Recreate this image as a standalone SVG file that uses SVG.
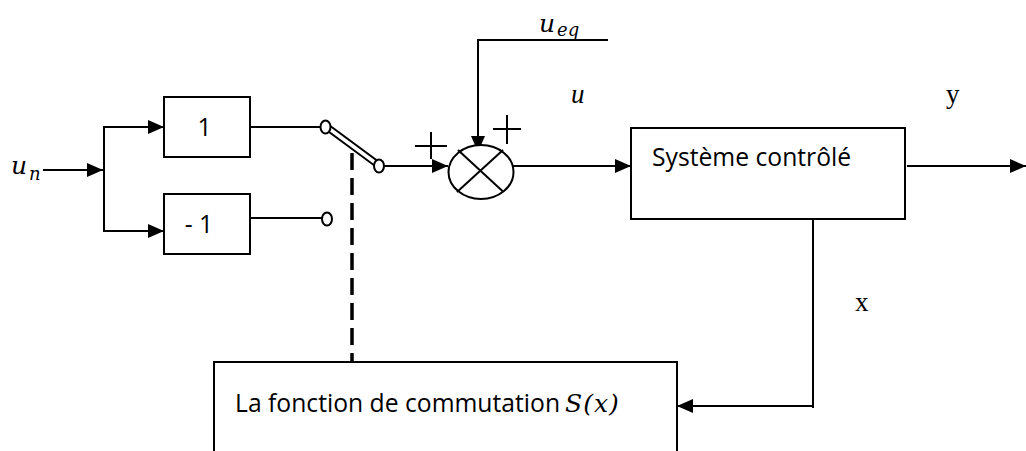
<svg xmlns="http://www.w3.org/2000/svg" width="1026" height="451" viewBox="0 0 1026 451">
<style>
.ln{stroke:#000;stroke-width:2;fill:none}
.bx{stroke:#000;stroke-width:2;fill:#fff}
.sans{font-family:"Open Sans","Noto Sans",sans-serif;font-size:24.7px;fill:#000}
.math{font-family:"DejaVu Serif","Liberation Serif",serif;font-style:italic;fill:#000}
.rom{font-family:"Liberation Serif",serif;font-size:27px;fill:#000}
</style>
<defs>
<marker id="ah" markerUnits="userSpaceOnUse" markerWidth="16" markerHeight="14" refX="16" refY="7" orient="auto">
<path d="M0,0 L16,7 L0,14 z" fill="#000"/>
</marker>
</defs>
<rect width="1026" height="451" fill="#fff"/>

<g id="connectors">
<line class="ln" x1="43" y1="170" x2="103" y2="170" marker-end="url(#ah)"/>
<line class="ln" x1="104" y1="127" x2="104" y2="231"/>
<line class="ln" x1="103" y1="127" x2="164" y2="127" marker-end="url(#ah)"/>
<line class="ln" x1="103" y1="231" x2="164" y2="231" marker-end="url(#ah)"/>
<line class="ln" x1="250" y1="127" x2="320" y2="127"/>
<line class="ln" x1="250" y1="218" x2="322" y2="218"/>
<line class="ln" x1="384" y1="166" x2="448" y2="166" marker-end="url(#ah)"/>
<polyline class="ln" points="608,40 478,40 478,152" marker-end="url(#ah)"/>
<line class="ln" x1="513" y1="166" x2="631" y2="166" marker-end="url(#ah)"/>
<line class="ln" x1="907" y1="166" x2="1026" y2="166" marker-end="url(#ah)"/>
<line class="ln" x1="813" y1="219" x2="813" y2="408"/>
<line class="ln" x1="814" y1="406" x2="677" y2="406" marker-end="url(#ah)"/>
<line x1="352" y1="153" x2="352" y2="362" stroke="#000" stroke-width="3.5" stroke-dasharray="17,8"/>
</g>

<g id="input-un">
<text class="math" x="11" y="174" font-size="25">u</text>
<text class="math" x="29" y="180" font-size="18">n</text>
</g>

<g id="gain-plus1">
<rect class="bx" x="164" y="97" width="86" height="60"/>
<text class="sans" x="204.5" y="136" text-anchor="middle">1</text>
</g>

<g id="gain-minus1">
<rect class="bx" x="164" y="194" width="86" height="60"/>
<text class="sans" x="199" y="233" text-anchor="middle">- 1</text>
</g>

<g id="switch">
<polygon class="bx" points="328.6,124.8 378.6,161.8 375.4,166.2 325.4,129.2"/>
<ellipse class="bx" cx="325.5" cy="127" rx="5" ry="6.5"/>
<ellipse class="bx" cx="379" cy="166" rx="5" ry="6.5"/>
<ellipse class="bx" cx="327" cy="219" rx="5" ry="6.5"/>
</g>

<g id="summer">
<ellipse class="bx" cx="481" cy="172" rx="32.5" ry="27"/>
<line class="ln" x1="458" y1="150" x2="503.5" y2="192"/>
<line class="ln" x1="503" y1="150" x2="457" y2="192"/>
<line class="ln" x1="415" y1="146" x2="447" y2="146"/>
<line class="ln" x1="431" y1="132" x2="431" y2="159"/>
<line class="ln" x1="493" y1="129" x2="521" y2="129"/>
<line class="ln" x1="507" y1="115" x2="507" y2="144"/>
</g>

<g id="ueq">
<text class="math" x="539" y="32" font-size="25">u</text>
<text class="math" x="557" y="36" font-size="18">eq</text>
</g>

<g id="label-u">
<text x="571" y="103" font-family="Liberation Serif, serif" font-style="italic" font-size="27">u</text>
</g>

<g id="system">
<rect class="bx" x="631" y="128" width="274" height="91"/>
<text class="sans" x="652" y="166">Système contrôlé</text>
</g>

<g id="label-y">
<text class="rom" x="946" y="103">y</text>
</g>

<g id="label-x">
<text class="rom" x="855" y="311">x</text>
</g>

<g id="switching-function">
<path class="ln" d="M214,451 V362 H677 V451"/>
<text class="sans" x="235" y="412">La fonction de commutation</text>
<text class="math" x="565" y="412" font-size="25" letter-spacing="1">S(x)</text>
</g>
</svg>
